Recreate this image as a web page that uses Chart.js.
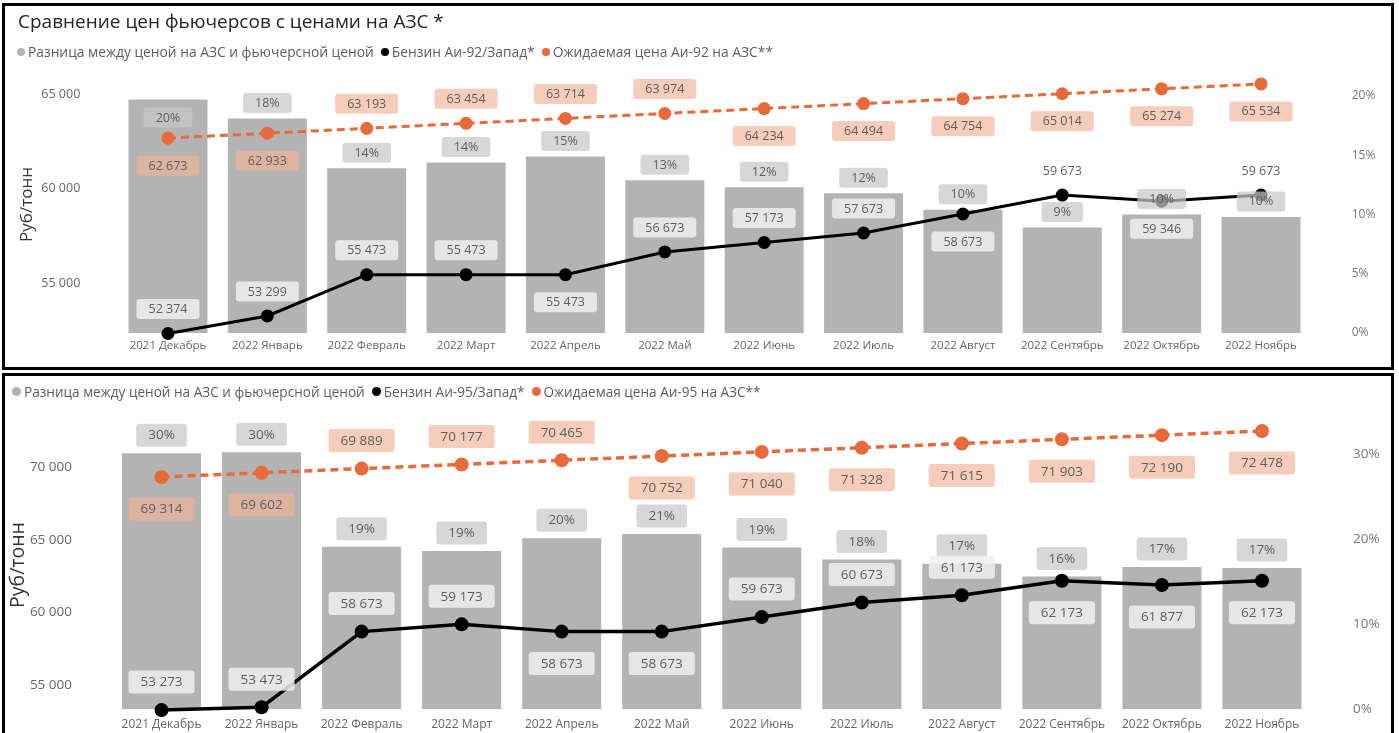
<!DOCTYPE html>
<html><head><meta charset="utf-8">
<script src="https://cdn.jsdelivr.net/npm/chart.js@4.4.0/dist/chart.umd.min.js"></script>
<style>
html,body{margin:0;padding:0;background:#fff;width:1399px;height:733px;overflow:hidden;font-family:"Segoe UI","Open Sans",sans-serif;}
.frame{position:absolute;border:3px solid #000;box-sizing:border-box;pointer-events:none;z-index:5;}
canvas{position:absolute;left:0;display:block;}
.title{position:absolute;left:18px;top:8px;font-size:19px;color:#252423;white-space:nowrap;z-index:4;}
.legend{position:absolute;white-space:nowrap;color:#605E5C;display:flex;align-items:center;z-index:4;}
.legend .item{display:inline-flex;align-items:center;margin-right:7px;}
.legend .dot{display:inline-block;border-radius:50%;margin-right:3px;}
</style></head>
<body>
<canvas id="c92" width="1399" height="372" style="top:0;width:1399px;height:372px;"></canvas>
<canvas id="c95" width="1399" height="361" style="top:372px;width:1399px;height:361px;"></canvas>
<div class="title">Сравнение цен фьючерсов с ценами на АЗС *</div>
<div class="legend" id="leg92" style="left:17px;top:42px;font-size:13.8px;"></div>
<div class="legend" id="leg95" style="left:12px;top:382px;font-size:13.6px;"></div>
<div class="frame" style="left:2px;top:3px;width:1392px;height:367px;"></div>
<div class="frame" style="left:2px;top:373px;width:1392px;height:400px;"></div>
<script>
// ---------- DATA ----------
const months = ['2021 Декабрь','2022 Январь','2022 Февраль','2022 Март','2022 Апрель','2022 Май','2022 Июнь','2022 Июль','2022 Август','2022 Сентябрь','2022 Октябрь','2022 Ноябрь'];

const diff92 = [19.7, 18.1, 13.9, 14.4, 14.9, 12.9, 12.3, 11.8, 10.4, 8.9, 10.0, 9.8];
const fut92  = [52374, 53299, 55473, 55473, 55473, 56673, 57173, 57673, 58673, 59673, 59346, 59673];
const exp92  = [62673, 62933, 63193, 63454, 63714, 63974, 64234, 64494, 64754, 65014, 65274, 65534];

const diff95 = [30.1, 30.2, 19.1, 18.6, 20.1, 20.6, 19.0, 17.6, 17.1, 15.6, 16.7, 16.6];
const fut95  = [53273, 53473, 58673, 59173, 58673, 58673, 59673, 60673, 61173, 62173, 61877, 62173];
const exp95  = [69314, 69602, 69889, 70177, 70465, 70752, 71040, 71328, 71615, 71903, 72190, 72478];

const leftTicks92 = [55000, 60000, 65000];
const rightTicks92 = [0, 5, 10, 15, 20];
const leftTicks95 = [55000, 60000, 65000, 70000];
const rightTicks95 = [0, 10, 20, 30];

const legend92 = ['Разница между ценой на АЗС и фьючерсной ценой', 'Бензин Аи-92/Запад*', 'Ожидаемая цена Аи-92 на АЗС**'];
const legend95 = ['Разница между ценой на АЗС и фьючерсной ценой', 'Бензин Аи-95/Запад*', 'Ожидаемая цена Аи-95 на АЗС**'];
const axisTitle = 'Руб/тонн';

// label placement (not data)
const diff92Pos = ['in','up','up','up','up','up','up','up','up','up','up','up'];
const fut92Pos  = ['up','up','up','up','down','up','up','up','down','up','down','up'];
const fut92Box  = [1,1,1,1,1,1,1,1,1,0,1,0];
const exp92Pos  = ['down','down','up','up','up','up','down','down','down','down','down','down'];
const diff95Pos = ['up','up','up','up','up','up','up','up','up','up','up','up'];
const fut95Pos  = ['up','up','up','up','down','down','up','up','up','down','down','down'];
const fut95Box  = [1,1,1,1,1,1,1,1,1,1,1,1];
const exp95Pos  = ['down','down','up','up','up','down','down','down','down','down','down','down'];

// ---------- STYLE ----------
const FONT = '"Segoe UI","Open Sans",sans-serif';
const GRAY = '#B3B3B3', ORANGE = '#E8693A', BLACK = '#000000';
const fmt = v => String(Math.round(v)).replace(/\B(?=(\d{3})+(?!\d))/g, ' ');

function buildLegend(id, texts, dot) {
  const el = document.getElementById(id);
  const cols = [GRAY, BLACK, ORANGE];
  texts.forEach((t, i) => {
    const it = document.createElement('span'); it.className = 'item';
    const d = document.createElement('span'); d.className = 'dot';
    d.style.width = dot + 'px'; d.style.height = dot + 'px'; d.style.background = cols[i];
    const s = document.createElement('span'); s.textContent = t;
    it.appendChild(d); it.appendChild(s); el.appendChild(it);
  });
}
buildLegend('leg92', legend92, 8);
buildLegend('leg95', legend95, 9);

function rr(ctx, x, y, w, h, r) {
  ctx.beginPath();
  ctx.moveTo(x + r, y); ctx.lineTo(x + w - r, y); ctx.quadraticCurveTo(x + w, y, x + w, y + r);
  ctx.lineTo(x + w, y + h - r); ctx.quadraticCurveTo(x + w, y + h, x + w - r, y + h);
  ctx.lineTo(x + r, y + h); ctx.quadraticCurveTo(x, y + h, x, y + h - r);
  ctx.lineTo(x, y + r); ctx.quadraticCurveTo(x, y, x + r, y); ctx.closePath();
}

function labelPlugin(L) {
  return {
    id: 'pbiLabels',
    afterDatasetsDraw(chart) {
      const ctx = chart.ctx;
      ctx.save();
      ctx.font = L.fs + 'px ' + FONT;
      ctx.textAlign = 'center'; ctx.textBaseline = 'middle';
      const draw = (x, y, txt, bg, boxed) => {
        const w = ctx.measureText(txt).width + 2 * L.padX;
        if (boxed) { ctx.fillStyle = bg; rr(ctx, x - w / 2, y - L.boxH / 2, w, L.boxH, 3); ctx.fill(); }
        ctx.fillStyle = L.txt;
        ctx.fillText(txt, x, y + 0.5);
      };
      chart.getDatasetMeta(2).data.forEach((el, i) => {
        const v = chart.data.datasets[2].data[i];
        const y = L.barPos[i] === 'in' ? el.y + L.barIn : el.y + L.barUp;
        draw(el.x, y, Math.round(v) + '%', 'rgba(200,200,200,0.72)', true);
      });
      chart.getDatasetMeta(1).data.forEach((el, i) => {
        const v = chart.data.datasets[1].data[i];
        const y = el.y + (L.futPos[i] === 'up' ? L.up : L.down);
        draw(el.x, y, fmt(v), 'rgba(238,238,238,0.85)', !!L.futBox[i]);
      });
      chart.getDatasetMeta(0).data.forEach((el, i) => {
        const v = chart.data.datasets[0].data[i];
        const y = el.y + (L.expPos[i] === 'up' ? L.up : L.down);
        draw(el.x, y, fmt(v), 'rgba(242,178,150,0.66)', true);
      });
      ctx.restore();
    }
  };
}

function makeChart(id, d) {
  return new Chart(document.getElementById(id), {
    data: {
      labels: months,
      datasets: [
        { type: 'line', label: d.names[2], data: d.exp, yAxisID: 'y', borderColor: ORANGE, backgroundColor: ORANGE,
          borderWidth: d.lw, borderDash: [8, 5], pointRadius: d.pr, pointHoverRadius: d.pr, pointBorderWidth: 0,
          tension: 0, order: 1, clip: false },
        { type: 'line', label: d.names[1], data: d.fut, yAxisID: 'y', borderColor: BLACK, backgroundColor: BLACK,
          borderWidth: d.lw, pointRadius: d.pr, pointHoverRadius: d.pr, pointBorderWidth: 0,
          tension: 0, order: 2, clip: false },
        { type: 'bar', label: d.names[0], data: d.diff, yAxisID: 'y1', backgroundColor: GRAY,
          barPercentage: d.bp, categoryPercentage: 1, order: 3 }
      ]
    },
    options: {
      responsive: false, animation: false, devicePixelRatio: 1,
      layout: { autoPadding: false, padding: { left: 0, right: 0, top: d.padTop, bottom: d.padBottom } },
      plugins: { legend: { display: false }, tooltip: { enabled: false } },
      scales: {
        x: {
          grid: { display: false, drawTicks: false }, border: { display: false },
          ticks: { color: '#666', font: { size: d.xfs, family: FONT }, padding: d.xpad, maxRotation: 0, autoSkip: false },
          afterFit(s) { s.height = d.xh; s.paddingLeft = 0; s.paddingRight = 0; }
        },
        y: {
          position: 'left', min: d.ymin, max: d.ymax,
          grid: { display: false, drawTicks: false }, border: { display: false },
          ticks: { color: '#666', font: { size: d.yfs, family: FONT }, padding: d.ypad, callback: v => fmt(v) },
          afterBuildTicks(s) { s.ticks = d.lt.map(v => ({ value: v })); },
          afterFit(s) { s.width = d.yw; s.paddingTop = 0; s.paddingBottom = 0; },
          title: { display: true, text: axisTitle, color: '#333', font: { size: d.tfs, family: FONT }, padding: { top: d.tpad, bottom: 0 } }
        },
        y1: {
          position: 'right', min: 0, max: d.y1max,
          grid: { display: false, drawTicks: false }, border: { display: false },
          ticks: { color: '#777', font: { size: d.rfs, family: FONT }, padding: 41, callback: v => v + '%' },
          afterBuildTicks(s) { s.ticks = d.rt.map(v => ({ value: v })); },
          afterFit(s) { s.width = d.y1w; s.paddingTop = 0; s.paddingBottom = 0; }
        }
      }
    },
    plugins: [labelPlugin(d.L)]
  });
}

makeChart('c92', {
  names: legend92, exp: exp92, fut: fut92, diff: diff92, lt: leftTicks92, rt: rightTicks92,
  lw: 3, pr: 6.5, bp: 0.795,
  padTop: 76, padBottom: 9, xh: 30, xfs: 11.5, xpad: 6,
  ymin: 52400, ymax: 65950, yw: 118.3, ypad: 38, yfs: 12.5, tfs: 17, tpad: 17,
  y1max: 21.69, y1w: 88.3, rfs: 12,
  L: { fs: 12.5, padX: 12, boxH: 20, txt: '#605E5C', up: -24.5, down: 27.5, barUp: -15.5, barIn: 18,
       barPos: diff92Pos, futPos: fut92Pos, futBox: fut92Box, expPos: exp92Pos }
});

makeChart('c95', {
  names: legend95, exp: exp95, fut: fut95, diff: diff95, lt: leftTicks95, rt: rightTicks95,
  lw: 3.5, pr: 7, bp: 0.79,
  padTop: 49, padBottom: 0, xh: 24, xfs: 12, xpad: 8,
  ymin: 53349, ymax: 73165, yw: 111.5, ypad: 39.5, yfs: 13.5, tfs: 19.5, tpad: 6.3,
  y1max: 33.88, y1w: 87, rfs: 13.5,
  L: { fs: 13.5, padX: 12, boxH: 23, txt: '#605E5C', up: -28, down: 32, barUp: -18, barIn: 18,
       barPos: diff95Pos, futPos: fut95Pos, futBox: fut95Box, expPos: exp95Pos }
});
</script>
</body></html>
